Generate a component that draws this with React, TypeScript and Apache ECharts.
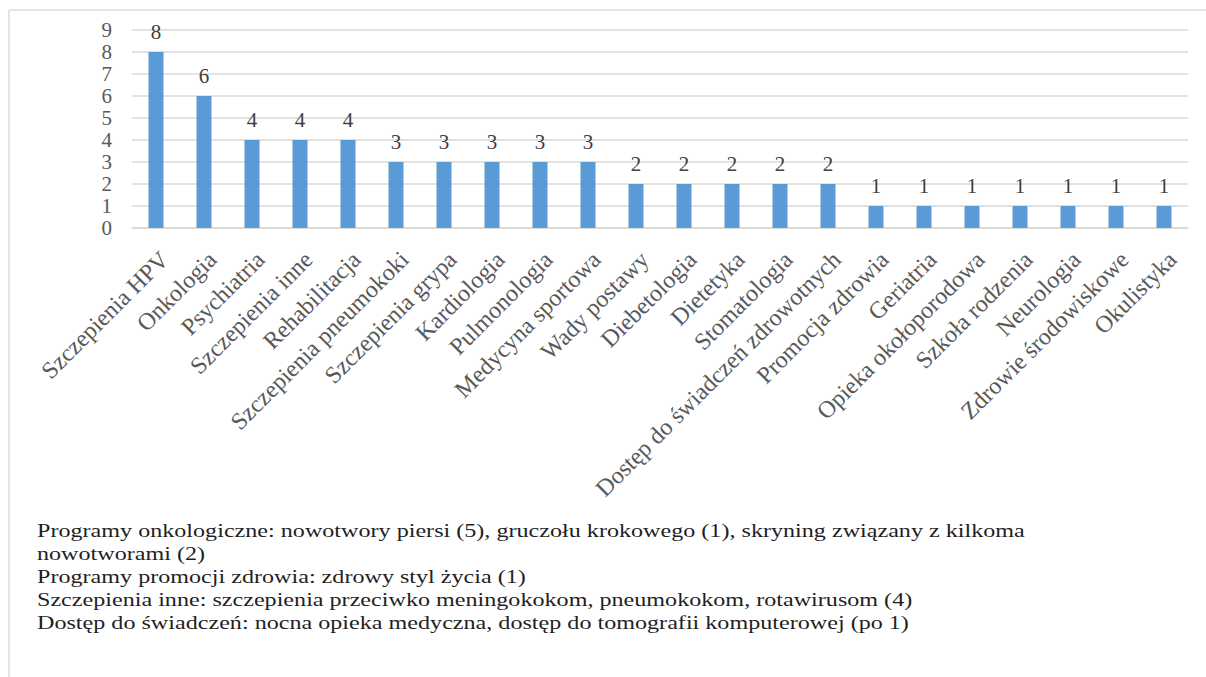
import React, { useEffect, useRef } from "react";
import * as echarts from "echarts";

const categories = [
  "Szczepienia HPV",
  "Onkologia",
  "Psychiatria",
  "Szczepienia inne",
  "Rehabilitacja",
  "Szczepienia pneumokoki",
  "Szczepienia grypa",
  "Kardiologia",
  "Pulmonologia",
  "Medycyna sportowa",
  "Wady postawy",
  "Diebetologia",
  "Dietetyka",
  "Stomatologia",
  "Dostęp do świadczeń zdrowotnych",
  "Promocja zdrowia",
  "Geriatria",
  "Opieka okołoporodowa",
  "Szkoła rodzenia",
  "Neurologia",
  "Zdrowie środowiskowe",
  "Okulistyka",
];

const values = [8, 6, 4, 4, 4, 3, 3, 3, 3, 3, 2, 2, 2, 2, 2, 1, 1, 1, 1, 1, 1, 1];

const notes = [
  "Programy onkologiczne: nowotwory piersi (5), gruczołu krokowego (1), skryning związany z kilkoma",
  "nowotworami (2)",
  "Programy promocji zdrowia: zdrowy styl życia (1)",
  "Szczepienia inne: szczepienia przeciwko meningokokom, pneumokokom, rotawirusom (4)",
  "Dostęp do świadczeń: nocna opieka medyczna, dostęp do tomografii komputerowej (po 1)",
];

const FONT = "Liberation Serif";

export default function App() {
  const ref = useRef<HTMLDivElement>(null);
  useEffect(() => {
    if (!ref.current) return;
    const chart = echarts.init(ref.current, undefined, { renderer: "svg" });
    const noteLines = notes.map((t, i) => ({
      type: "text",
      x: 37,
      y: 521 + i * 23.2,
      scaleX: 1.27,
      style: { text: t, font: "19px Liberation Serif", fill: "#1f1f1f" },
    }));
    chart.setOption({
      animation: false,
      backgroundColor: "#fff",
      grid: { left: 132, right: 18, top: 30, height: 198, containLabel: false },
      xAxis: {
        type: "category",
        data: categories,
        axisLine: { show: true, lineStyle: { color: "#d9d9d9", width: 1.5 } },
        axisTick: { show: false },
        axisLabel: {
          rotate: 45,
          interval: 0,
          margin: 19,
          verticalAlign: "top",
          color: "#595959",
          fontFamily: FONT,
          fontSize: 24,
        },
      },
      yAxis: {
        type: "value",
        min: 0,
        max: 9,
        interval: 1,
        axisLine: { show: false },
        axisTick: { show: false },
        splitLine: { lineStyle: { color: "#d9d9d9", width: 1.5 } },
        axisLabel: { color: "#595959", fontFamily: FONT, fontSize: 21, margin: 20 },
      },
      series: [
        {
          type: "bar",
          data: values,
          barWidth: 15,
          itemStyle: { color: "#5B9BD5" },
          label: {
            show: true,
            position: "top",
            distance: 10,
            color: "#404040",
            fontFamily: FONT,
            fontSize: 21,
          },
        },
      ],
      graphic: [
        { type: "line", shape: { x1: 9, y1: 10, x2: 1206, y2: 10 }, style: { stroke: "#dcdcdc", lineWidth: 1.5 } },
        { type: "line", shape: { x1: 9, y1: 10, x2: 9, y2: 677 }, style: { stroke: "#dcdcdc", lineWidth: 1.5 } },
        ...noteLines,
      ],
    });
    return () => chart.dispose();
  }, []);
  return (
    <div
      ref={ref}
      style={{ position: "fixed", left: 0, top: 0, width: 1206, height: 677 }}
    />
  );
}
